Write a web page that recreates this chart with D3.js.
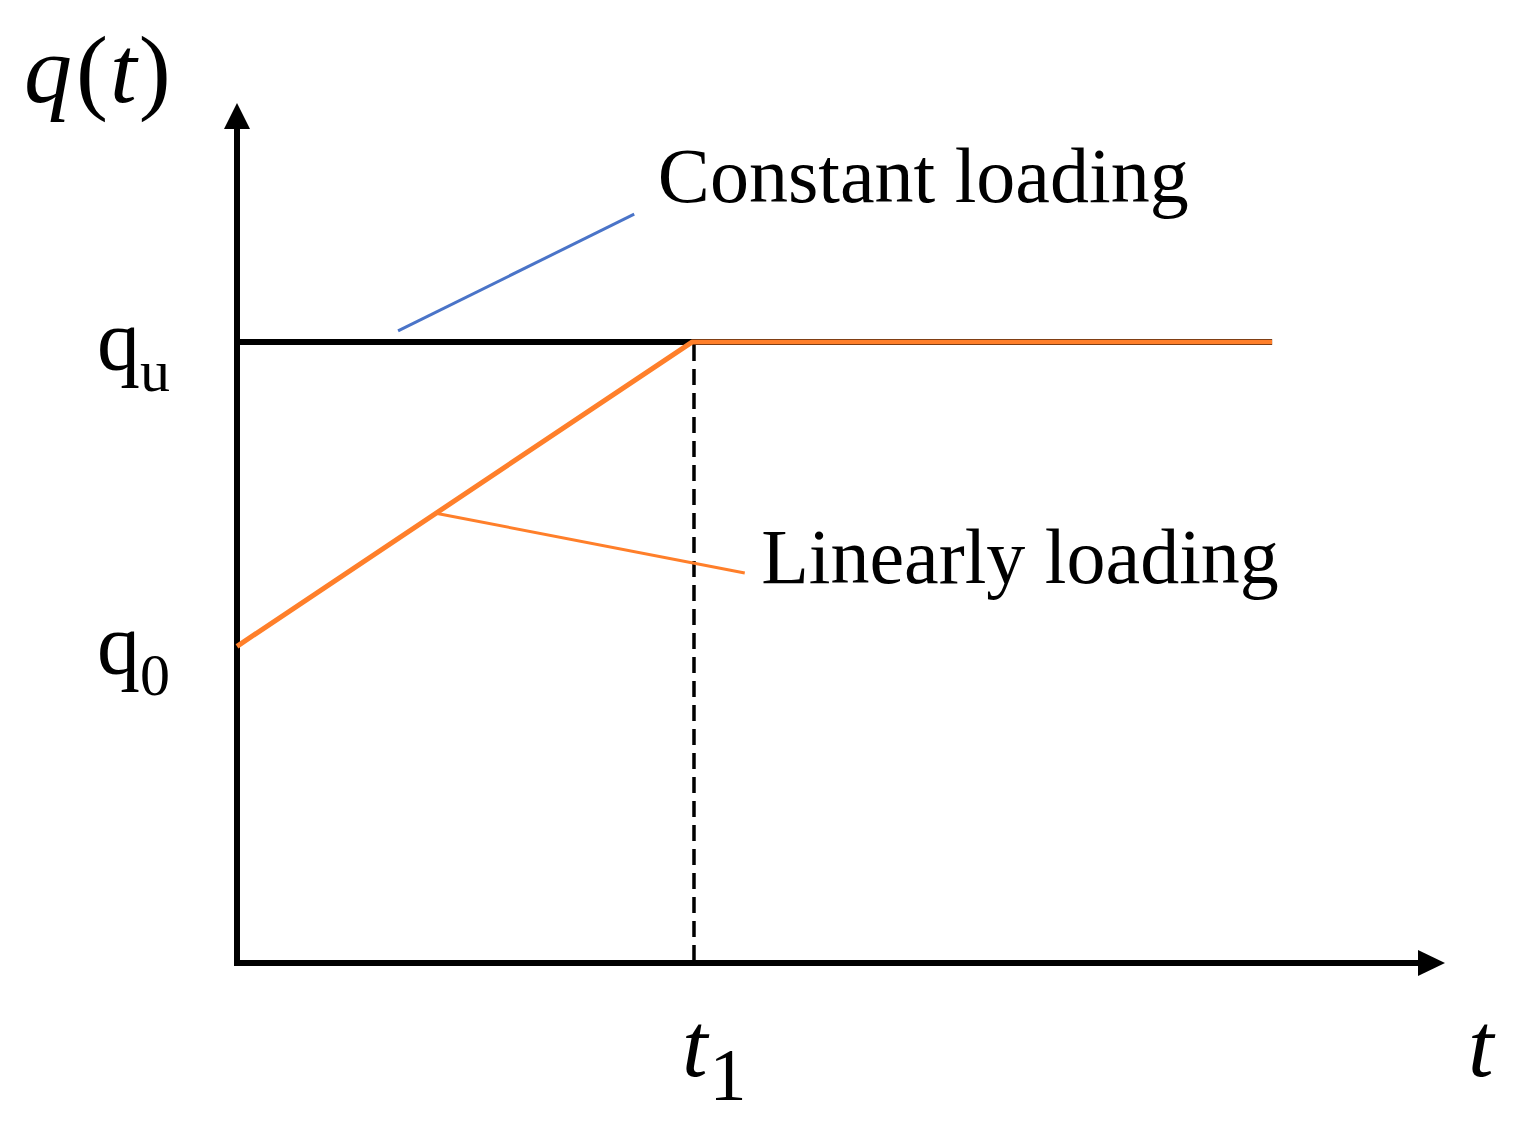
<!DOCTYPE html>
<html>
<head>
<meta charset="utf-8">
<script src="https://cdn.jsdelivr.net/npm/d3@7/dist/d3.min.js"></script>
<style>
  html, body { margin: 0; padding: 0; background: #fff; }
  svg { display: block; }
  text { font-family: "Liberation Serif", "Times New Roman", serif; fill: #000; }
</style>
</head>
<body>
<svg id="chart" width="1522" height="1130"></svg>
<script>
// ---- data (schematic units: t1 = 1, qu = 1) ----
const tDomain = [0, 2.655];          // time axis extent (arrow tip)
const qDomain = [0, 1.385];          // load axis extent (arrow tip)
const t1 = 1;
const tEnd = 2.275;
const qu = 1;
const q0 = 0.51;

// constant loading series (black)
const constantT = [0, tEnd];
const constantQ = [qu, qu];
// linearly loading series (orange)
const linearT = [0, t1, tEnd];
const linearQ = [q0, qu, qu];

// y tick labels
const yTickValues = [qu, q0];
const yTickMain = ["q", "q"];
const yTickSub = ["u", "0"];

// annotations (data units)
const annoNames = ["Constant loading", "Linearly loading"];
const annoLeaderFrom = [[0.354, 1.018], [0.44, 0.724]];
const annoLeaderTo = [[0.873, 1.206], [1.116, 0.628]];
const annoTextPos = [[0.925, 1.225], [1.152, 0.612]];
const annoColors = ["#4a74c8", "#ff7f2a"];

// ---- drawing ----
const svg = d3.select("#chart");
const x = d3.scaleLinear().domain(tDomain).range([237, 1445]);
const y = d3.scaleLinear().domain(qDomain).range([963, 103]);

const line = d3.line().x(d => x(d[0])).y(d => y(d[1]));

// axes with arrows
const axisColor = "#000";
const axisW = 6;
svg.append("line")
  .attr("x1", x(0)).attr("y1", y(0) + axisW / 2)
  .attr("x2", x(0)).attr("y2", y(qDomain[1]) + 20)
  .attr("stroke", axisColor).attr("stroke-width", axisW);
svg.append("path")
  .attr("d", `M${x(0)},${y(qDomain[1])} L${x(0) - 13},${y(qDomain[1]) + 26} L${x(0) + 13},${y(qDomain[1]) + 26} Z`)
  .attr("fill", axisColor);
svg.append("line")
  .attr("x1", x(0) - axisW / 2).attr("y1", y(0))
  .attr("x2", x(tDomain[1]) - 20).attr("y2", y(0))
  .attr("stroke", axisColor).attr("stroke-width", axisW);
svg.append("path")
  .attr("d", `M${x(tDomain[1])},${y(0)} L${x(tDomain[1]) - 27},${y(0) - 13} L${x(tDomain[1]) - 27},${y(0) + 13} Z`)
  .attr("fill", axisColor);

// dashed t1 guide
svg.append("line")
  .attr("x1", x(t1) + 2).attr("y1", y(qu) + 3)
  .attr("x2", x(t1) + 2).attr("y2", y(0))
  .attr("stroke", "#000").attr("stroke-width", 3.5)
  .attr("stroke-dasharray", "16,8");

// constant loading line
svg.append("path")
  .datum(constantT.map((t, i) => [t, constantQ[i]]))
  .attr("d", line)
  .attr("fill", "none").attr("stroke", "#000").attr("stroke-width", 6);

// linear loading line
svg.append("path")
  .datum(linearT.map((t, i) => [t, linearQ[i]]))
  .attr("d", line)
  .attr("fill", "none").attr("stroke", "#ff7f2a").attr("stroke-width", 5)
  .attr("stroke-linejoin", "round");

// annotation leaders & text
annoNames.forEach((name, i) => {
  svg.append("line")
    .attr("x1", x(annoLeaderFrom[i][0])).attr("y1", y(annoLeaderFrom[i][1]))
    .attr("x2", x(annoLeaderTo[i][0])).attr("y2", y(annoLeaderTo[i][1]))
    .attr("stroke", annoColors[i]).attr("stroke-width", 3);
  svg.append("text")
    .attr("x", x(annoTextPos[i][0])).attr("y", y(annoTextPos[i][1]))
    .attr("font-size", 78)
    .text(name);
});

// y tick labels (q_u, q_0)
yTickValues.forEach((v, i) => {
  const t = svg.append("text")
    .attr("x", 170).attr("y", y(v) + 27)
    .attr("text-anchor", "end")
    .attr("font-size", 86);
  t.append("tspan").text(yTickMain[i]);
  t.append("tspan").attr("font-size", 60).attr("dy", 22).text(yTickSub[i]);
});

// axis titles
const qtLabel = svg.append("text")
  .attr("x", 24).attr("y", 102)
  .attr("font-size", 96);
qtLabel.append("tspan").attr("font-style", "italic").text("q");
qtLabel.append("tspan").attr("dx", 4).text("(");
qtLabel.append("tspan").attr("font-style", "italic").attr("dx", 2).text("t");
qtLabel.append("tspan").attr("dx", 2).text(")");

svg.append("text")
  .attr("x", 1468).attr("y", 1076)
  .attr("font-size", 92).attr("font-style", "italic")
  .text("t");

const t1Label = svg.append("text")
  .attr("x", x(t1) - 10).attr("y", 1076)
  .attr("font-size", 92);
t1Label.append("tspan").attr("font-style", "italic").text("t");
t1Label.append("tspan").attr("font-size", 74).attr("dx", 2).attr("dy", 24).text("1");
</script>
</body>
</html>
